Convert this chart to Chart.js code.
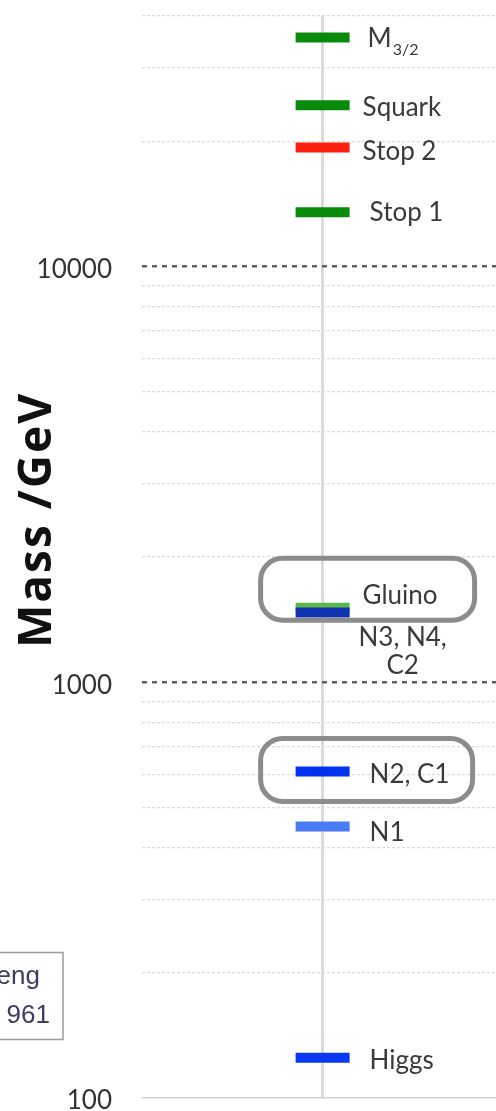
<!DOCTYPE html>
<html>
<head>
<meta charset="utf-8">
<title>Sparticle mass spectrum</title>
<script src="https://cdn.jsdelivr.net/npm/chart.js@4.4.1/dist/chart.umd.min.js"></script>
<style>
  html, body { margin: 0; padding: 0; background: #fff; }
  #wrap { position: relative; width: 496px; height: 1111px; }
</style>
</head>
<body>
<div id="wrap"><canvas id="spectrum"></canvas></div>
<script>
// masses in GeV, heaviest first ("_" marks a subscript)
const particles = ['M_3/2', 'Squark', 'Stop 2', 'Stop 1', 'Gluino', 'N3, N4, C2', 'N2, C1', 'N1', 'Higgs'];
const massesGeV = [35500, 24400, 19300, 13500, 1510, 1470, 610, 450, 125];
const tickLabels = ['100', '1000', '10000'];
const axisTitle = 'Mass /GeV';
const citeLines = ['eng', '961'];

const barColours = ['#0a8a0a', '#0a8a0a', '#ff2010', '#0a8a0a', '#5ab848', '#1232b4', '#0032f0', '#4a7cf5', '#0a38f0'];

// label placement relative to each mass bar
const labelTweaks = {
    'M_3/2': { dx: 45, dy: 0 },
    'Squark': { dx: 40, dy: 1 },
    'Stop 2': { dx: 40, dy: 3 },
    'Stop 1': { dy: 0 },
    'Gluino': { dx: 40, dy: -13 },
    'N3, N4, C2': { dx: 80, dy: 24.5, align: 'center', wrap: 100 },
    'N1': { dy: 5 }
};
// rounded boxes drawn round some of the levels
const boxed = {
    'Gluino': { left: -62, right: 152, top: -49.5, bottom: 12.5 },
    'N2, C1': { left: -62, right: 150, top: -33, bottom: 30 }
};

function gridStyle(tick) {
    if (!tick) return { color: '#ddd', width: 1, dash: [] };
    const v = tick.value;
    if (v === 100) return { color: '#cfcfcf', width: 1.5, dash: [] };
    if (tickLabels.includes(String(v))) return { color: '#606060', width: 2.5, dash: [5, 5] };
    return { color: '#dcdcdc', width: 1.2, dash: [3, 2] };
}

function roundedRect(ctx, x, y, w, h, r) {
    ctx.beginPath();
    ctx.moveTo(x + r, y);
    ctx.lineTo(x + w - r, y);
    ctx.arcTo(x + w, y, x + w, y + r, r);
    ctx.lineTo(x + w, y + h - r);
    ctx.arcTo(x + w, y + h, x + w - r, y + h, r);
    ctx.lineTo(x + r, y + h);
    ctx.arcTo(x, y + h, x, y + h - r, r);
    ctx.lineTo(x, y + r);
    ctx.arcTo(x, y, x + r, y, r);
    ctx.closePath();
}

function wrapText(ctx, text, maxWidth) {
    const words = text.split(' ');
    const lines = [];
    let line = '';
    words.forEach(w => {
        const test = line ? line + ' ' + w : w;
        if (line && ctx.measureText(test).width > maxWidth) {
            lines.push(line);
            line = w;
        } else {
            line = test;
        }
    });
    lines.push(line);
    return lines;
}

const particleLabels = {
    id: 'particleLabels',
    afterDatasetsDraw(chart) {
        const ctx = chart.ctx;
        const meta = chart.getDatasetMeta(0);
        ctx.save();

        ctx.strokeStyle = '#8c8c8c';
        ctx.lineWidth = 5;
        Object.keys(boxed).forEach(name => {
            const pt = meta.data[particles.indexOf(name)];
            const b = boxed[name];
            roundedRect(ctx, pt.x + b.left, pt.y + b.top, b.right - b.left, b.bottom - b.top, 22);
            ctx.stroke();
        });

        const size = 26;
        const capHalf = size * 0.3583;
        ctx.fillStyle = '#3a3a3a';
        ctx.textBaseline = 'alphabetic';
        meta.data.forEach((pt, i) => {
            const name = particles[i];
            const opt = Object.assign({ dx: 47, dy: 2, align: 'left' }, labelTweaks[name]);
            const x = pt.x + opt.dx;
            let base = pt.y + opt.dy + capHalf;
            ctx.font = size + 'px Lato';
            ctx.textAlign = opt.align;
            if (name.includes('_')) {
                const [main, sub] = name.split('_');
                ctx.fillText(main, x, base);
                const w = ctx.measureText(main).width;
                ctx.font = '16px Lato';
                ctx.fillText(sub, x + w + 1, base + 8);
            } else if (opt.wrap) {
                wrapText(ctx, name, opt.wrap).forEach(line => {
                    ctx.fillText(line, x, base);
                    base += 28;
                });
            } else {
                ctx.fillText(name, x, base);
            }
        });
        ctx.restore();
    },
    afterDraw(chart) {
        const ctx = chart.ctx;
        ctx.save();
        // y axis title, a little above the middle of the axis
        ctx.translate(38, 520);
        ctx.rotate(-Math.PI / 2);
        ctx.font = 'bold 46px "Open Sans"';
        ctx.letterSpacing = '2px';
        ctx.fillStyle = '#111';
        ctx.textAlign = 'center';
        ctx.textBaseline = 'middle';
        ctx.fillText(axisTitle, 0, 0);
        ctx.restore();

        // reference box cut off at the left edge
        ctx.save();
        ctx.strokeStyle = '#9a9a9a';
        ctx.lineWidth = 1.5;
        ctx.strokeRect(-20, 952.5, 83, 87);
        ctx.font = '26px "Liberation Sans Narrow", "Liberation Sans", sans-serif';
        ctx.fillStyle = '#3c3c64';
        ctx.textAlign = 'right';
        ctx.fillText(citeLines[0], 40, 984);
        ctx.fillText(citeLines[1], 50, 1023);
        ctx.restore();
    }
};

new Chart(document.getElementById('spectrum'), {
    type: 'scatter',
    data: {
        datasets: [{
            data: massesGeV.map(m => ({ x: 0, y: m })),
            pointStyle: 'line',
            pointRadius: 27,
            pointHoverRadius: 27,
            pointBorderWidth: 10,
            pointHoverBorderWidth: 10,
            pointBorderColor: barColours,
            pointBackgroundColor: barColours
        }]
    },
    options: {
        responsive: true,
        maintainAspectRatio: false,
        animation: false,
        layout: { autoPadding: false, padding: { top: 16, bottom: 13, left: 0, right: 0 } },
        plugins: {
            legend: { display: false },
            tooltip: { enabled: false }
        },
        scales: {
            x: {
                type: 'linear',
                min: -1,
                max: 0.96,
                afterBuildTicks: s => { s.ticks = [{ value: 0 }]; },
                afterFit: s => { s.height = 0; s.paddingLeft = 0; s.paddingRight = 0; },
                ticks: { display: false },
                grid: { color: '#dadada', lineWidth: 3, drawTicks: false },
                border: { display: false }
            },
            y: {
                type: 'logarithmic',
                min: 100,
                max: 40000,
                afterBuildTicks: s => {
                    const ticks = [];
                    for (let decade = s.min; decade < s.max; decade *= 10) {
                        for (let k = 1; k <= 9; k++) {
                            if (k * decade <= s.max) ticks.push({ value: k * decade, major: k === 1 });
                        }
                    }
                    s.ticks = ticks;
                },
                afterFit: s => { s.width = 142; s.paddingTop = 0; s.paddingBottom = 0; },
                ticks: {
                    autoSkip: false,
                    padding: 30,
                    labelOffset: 3,
                    color: '#333',
                    font: { family: 'Lato', size: 26 },
                    callback: v => tickLabels.includes(String(v)) ? String(v) : ''
                },
                grid: {
                    color: c => gridStyle(c.tick).color,
                    lineWidth: c => gridStyle(c.tick).width,
                    drawTicks: false
                },
                border: { display: false, dash: c => gridStyle(c.tick).dash }
            }
        }
    },
    plugins: [particleLabels]
});
</script>
</body>
</html>
